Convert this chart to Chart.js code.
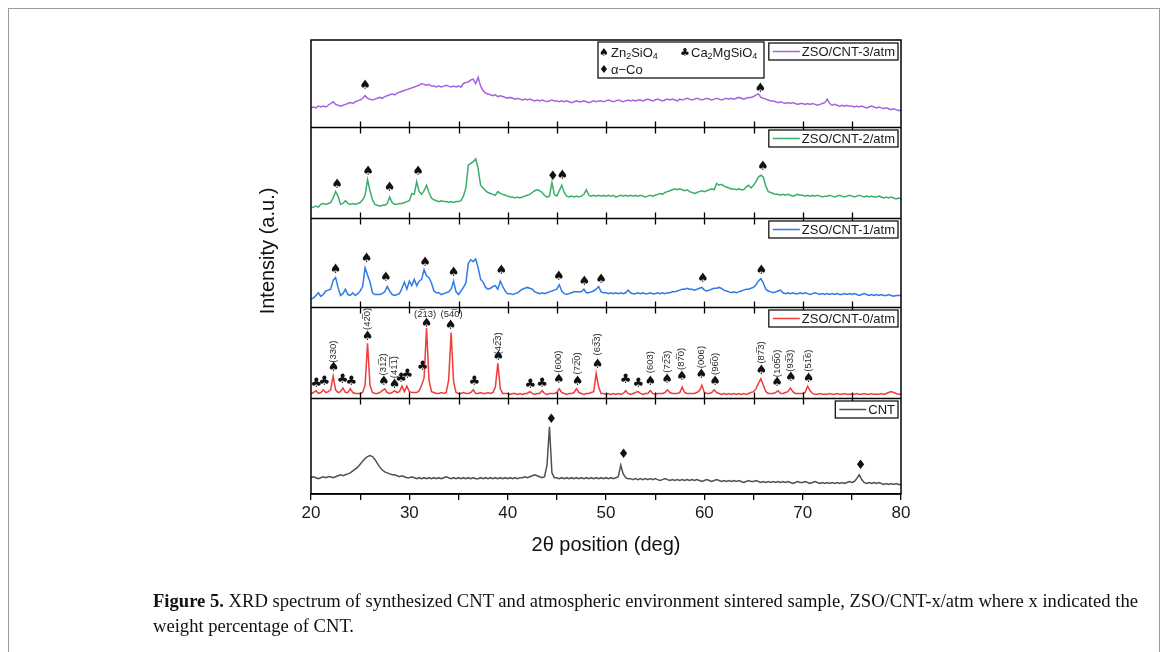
<!DOCTYPE html>
<html>
<head>
<meta charset="utf-8">
<script src="https://cdn.jsdelivr.net/npm/chart.js@4.4.1/dist/chart.umd.min.js"></script>
<style>
  html, body { margin: 0; padding: 0; background: #fff; }
  body { width: 1167px; height: 652px; position: relative; overflow: hidden; }
  #frame { position: absolute; left: 8px; top: 8px; width: 1150px; height: 700px; border: 1.5px solid #9a9a9a; }
  #chart { position: absolute; left: 0; top: 0; }
  #caption { position: absolute; left: 153px; top: 588px; font-family: 'Liberation Serif', 'Times New Roman', serif;
             font-size: 18.6px; color: #111; line-height: 25px; white-space: nowrap; }
  #caption b { font-weight: bold; }
</style>
</head>
<body>
<div id="frame"></div>
<canvas id="chart" width="1167" height="652"></canvas>
<div id="caption"><b>Figure 5.</b> XRD spectrum of synthesized CNT and atmospheric environment sintered sample, ZSO/CNT-x/atm where x indicated the<br>weight percentage of CNT.</div>
<script>
// scan grid: 2theta from 20 to 80 deg, 0.25 deg step
const scanStart = 20
const scanStep = 0.25

// intensities, each panel scaled 0..100 (a.u.), rows of 2.5 deg
const zso3 = [
  22, 23, 22, 24, 23, 24, 23, 25, 27, 29,
  26, 25, 24, 25, 26, 27, 28, 27, 29, 30,
  31, 33, 36, 33, 32, 31, 32, 33, 34, 33,
  35, 36, 37, 38, 37, 39, 40, 41, 42, 43,
  44, 45, 46, 47, 48, 50, 49, 48, 49, 47,
  47, 46, 47, 46, 47, 48, 47, 46, 47, 46,
  47, 46, 50, 51, 52, 54, 55, 50, 57, 47,
  42, 39, 38, 37, 36, 37, 35, 36, 35, 34,
  33, 34, 33, 32, 33, 32, 31, 32, 31, 32,
  31, 30, 31, 30, 31, 30, 29, 30, 31, 30,
  30, 29, 30, 29, 30, 29, 28, 29, 30, 29,
  29, 30, 29, 28, 29, 30, 29, 30, 30, 29,
  30, 31, 30, 29, 30, 31, 30, 29, 30, 31,
  30, 31, 30, 31, 31, 30, 31, 32, 31, 30,
  31, 32, 31, 30, 31, 32, 31, 32, 31, 30,
  32, 31, 32, 33, 32, 31, 32, 33, 32, 31,
  32, 33, 32, 31, 32, 33, 32, 31, 32, 33,
  32, 33, 32, 33, 34, 33, 32, 33, 34, 34,
  35, 37, 38, 34, 33, 32, 31, 30, 30, 29,
  28, 29, 28, 27, 28, 27, 28, 27, 26, 27,
  27, 26, 27, 26, 27, 26, 25, 26, 27, 28,
  32, 27, 25, 26, 25, 24, 25, 24, 25, 24,
  24, 23, 24, 23, 24, 23, 22, 23, 24, 23,
  22, 23, 22, 21, 22, 21, 20, 21, 20, 19,
  19
]

const zso2 = [
  11, 12, 13, 12, 15, 16, 15, 16, 17, 22,
  29, 24, 15, 16, 19, 16, 15, 16, 15, 16,
  17, 20, 25, 42, 30, 20, 15, 14, 13, 14,
  14, 16, 23, 17, 15, 15, 16, 16, 17, 18,
  19, 27, 26, 40, 29, 26, 30, 36, 28, 22,
  20, 19, 18, 19, 18, 18, 17, 18, 17, 18,
  18, 19, 24, 33, 58, 60, 62, 65, 54, 36,
  33, 30, 28, 27, 26, 25, 29, 27, 26, 25,
  24, 23, 23, 22, 23, 22, 23, 24, 25, 26,
  28, 30, 31, 30, 28, 25, 23, 24, 39, 26,
  24, 30, 36, 28, 24, 23, 24, 23, 24, 23,
  24, 26, 31, 25, 24, 25, 24, 25, 24, 25,
  24, 25, 24, 25, 23, 24, 25, 24, 25, 24,
  25, 24, 25, 24, 25, 24, 23, 24, 25, 24,
  25, 26, 27, 26, 28, 29, 30, 31, 32, 31,
  32, 31, 30, 31, 29, 28, 27, 28, 29, 30,
  29, 30, 31, 32, 31, 38, 36, 37, 35, 34,
  33, 32, 32, 31, 32, 31, 31, 34, 36, 33,
  36, 40, 45, 47, 45, 35, 29, 28, 27, 26,
  26, 25, 26, 25, 26, 25, 24, 25, 26, 25,
  25, 24, 25, 24, 25, 24, 25, 24, 23, 24,
  24, 25, 24, 23, 24, 25, 24, 23, 24, 25,
  24, 23, 24, 25, 24, 23, 24, 23, 24, 23,
  23, 24, 23, 22, 23, 22, 23, 22, 21, 22,
  21
]

const zso1 = [
  9, 10, 13, 16, 12, 14, 18, 19, 20, 30,
  33, 22, 13, 15, 20, 14, 13, 16, 13, 15,
  18, 23, 44, 36, 28, 16, 14, 14, 14, 15,
  17, 23, 18, 14, 13, 14, 15, 21, 28, 20,
  29, 24, 31, 24, 29, 31, 42, 35, 33, 27,
  18, 16, 16, 14, 15, 16, 17, 20, 29, 17,
  14, 18, 22, 27, 49, 53, 51, 54, 44, 31,
  28, 22, 20, 21, 23, 24, 20, 29, 23, 18,
  15, 15, 14, 15, 16, 18, 20, 21, 22, 21,
  20, 17, 16, 15, 16, 15, 16, 17, 18, 19,
  20, 25, 18, 15, 14, 15, 16, 17, 17, 17,
  17, 20, 16, 16, 17, 18, 20, 23, 17, 16,
  16, 15, 16, 15, 16, 15, 16, 15, 16, 19,
  16, 15, 15, 16, 15, 16, 15, 15, 16, 15,
  15, 16, 15, 16, 15, 16, 16, 17, 17, 18,
  19, 20, 20, 21, 20, 20, 19, 20, 21, 22,
  19, 18, 19, 20, 21, 21, 22, 21, 19, 18,
  17, 16, 17, 16, 17, 18, 19, 20, 20, 21,
  22, 25, 29, 32, 27, 20, 18, 17, 16, 17,
  18, 19, 16, 15, 16, 15, 16, 15, 15, 16,
  15, 16, 15, 14, 15, 16, 15, 14, 15, 14,
  15, 14, 15, 14, 15, 14, 14, 15, 14, 15,
  14, 15, 14, 13, 14, 15, 14, 13, 14, 13,
  14, 13, 14, 13, 13, 14, 13, 12, 13, 13,
  13
]

const zso0 = [
  5, 6, 8, 5, 6, 9, 6, 7, 9, 24,
  9, 6, 7, 11, 6, 6, 10, 6, 5, 5,
  5, 6, 14, 60, 14, 6, 5, 5, 6, 8,
  10, 6, 5, 6, 8, 6, 7, 13, 7, 13,
  7, 6, 6, 6, 8, 14, 22, 77, 20, 7,
  6, 5, 5, 6, 5, 6, 20, 72, 18, 6,
  5, 5, 6, 5, 5, 6, 9, 5, 5, 6,
  5, 5, 6, 5, 6, 12, 38, 10, 5, 5,
  5, 4, 5, 5, 4, 5, 4, 5, 5, 7,
  5, 4, 5, 5, 8, 5, 4, 5, 5, 5,
  6, 10, 6, 5, 4, 5, 5, 6, 10, 6,
  5, 4, 5, 5, 6, 7, 27, 12, 5, 5,
  4, 5, 4, 5, 4, 5, 4, 5, 8, 5,
  4, 5, 6, 7, 5, 4, 5, 5, 8, 5,
  4, 5, 5, 5, 6, 9, 6, 5, 5, 5,
  6, 12, 6, 5, 5, 5, 5, 6, 8, 14,
  6, 5, 5, 6, 9, 6, 5, 4, 5, 4,
  5, 4, 5, 4, 5, 4, 5, 4, 5, 6,
  7, 10, 16, 21, 14, 7, 5, 5, 5, 6,
  8, 5, 5, 6, 7, 11, 7, 5, 5, 5,
  5, 6, 13, 8, 5, 4, 4, 5, 4, 4,
  4, 5, 4, 4, 5, 4, 4, 5, 4, 4,
  4, 4, 5, 4, 4, 5, 4, 4, 5, 4,
  4, 4, 5, 4, 5, 6, 7, 6, 5, 4,
  4
]

const cnt = [
  17, 18, 17, 16, 17, 18, 17, 18, 18, 17,
  18, 19, 20, 19, 20, 21, 22, 24, 26, 28,
  31, 34, 37, 39, 40, 39, 36, 32, 28, 25,
  23, 22, 21, 20, 20, 19, 18, 19, 18, 17,
  17, 18, 17, 16, 17, 16, 17, 16, 17, 16,
  17, 16, 17, 16, 17, 18, 17, 16, 17, 16,
  17, 16, 17, 16, 17, 16, 17, 16, 16, 17,
  16, 17, 16, 17, 16, 17, 16, 17, 16, 17,
  16, 17, 16, 17, 16, 17, 17, 18, 17, 18,
  19, 20, 19, 18, 17, 18, 30, 70, 22, 17,
  17, 16, 17, 16, 17, 16, 17, 16, 17, 16,
  17, 16, 17, 16, 17, 16, 17, 16, 17, 16,
  17, 16, 17, 16, 17, 18, 30, 21, 17, 16,
  16, 15, 16, 15, 16, 15, 16, 15, 16, 15,
  16, 15, 14, 15, 16, 15, 14, 15, 14, 15,
  14, 15, 14, 15, 14, 15, 14, 15, 14, 13,
  14, 15, 14, 13, 14, 15, 14, 13, 14, 13,
  14, 13, 14, 13, 14, 13, 12, 13, 14, 13,
  13, 14, 13, 12, 13, 12, 13, 12, 13, 12,
  13, 12, 13, 12, 13, 12, 11, 12, 13, 12,
  12, 13, 12, 11, 12, 13, 12, 11, 12, 11,
  12, 11, 12, 11, 12, 11, 12, 11, 12, 13,
  12, 13, 16, 20, 15, 12, 11, 12, 11, 12,
  11, 12, 11, 10, 11, 10, 11, 10, 11, 10,
  10
]

// phase marks [2theta, height in panel units, phase]
const marks3 = [[25.5, 48, 'zn'], [65.7, 44, 'zn']]
const marks2 = [[22.65, 37, 'zn'], [25.8, 51, 'zn'], [28.0, 33, 'zn'], [30.9, 51, 'zn'],
  [44.6, 45, 'co'], [45.55, 47, 'zn'], [65.95, 57, 'zn']]
const marks1 = [[22.5, 42, 'zn'], [25.65, 54.5, 'zn'], [27.6, 33, 'zn'], [31.6, 50, 'zn'], [34.5, 39, 'zn'],
  [39.35, 41, 'zn'], [45.2, 34.5, 'zn'], [47.8, 28, 'zn'], [49.5, 31, 'zn'], [59.85, 32, 'zn'], [65.8, 41, 'zn']]
const marks0 = [[20.55, 16, 'ca'], [21.35, 17.5, 'ca'], [22.3, 33, 'zn'], [23.2, 20, 'ca'], [24.1, 18.5, 'ca'],
  [25.75, 67, 'zn'], [27.4, 17.5, 'zn'], [28.5, 14.5, 'zn'], [29.15, 21, 'ca'], [29.8, 26, 'ca'],
  [31.35, 34, 'ca'], [31.75, 82, 'zn'], [34.2, 80, 'zn'], [36.6, 18, 'ca'], [39.05, 46, 'zn'],
  [42.3, 14.5, 'ca'], [43.5, 15.6, 'ca'], [45.2, 20, 'zn'], [47.1, 17.5, 'zn'], [49.15, 37, 'zn'],
  [52.0, 20, 'ca'], [53.3, 16, 'ca'], [54.5, 18, 'zn'], [56.2, 20, 'zn'], [57.7, 23.6, 'zn'],
  [59.7, 25.5, 'zn'], [61.1, 17.5, 'zn'], [65.8, 30, 'zn'], [67.4, 16.7, 'zn'], [68.8, 22, 'zn'], [70.6, 21, 'zn']]
const marksCnt = [[44.45, 77, 'co'], [51.8, 41, 'co'], [75.9, 30, 'co']]

// Miller indices on ZSO/CNT-0/atm [text, 2theta, height, rotated]
const bar = '\u0305'
const hkl0 = [
  ['(330)', 22.3, 51, true], ['(42' + bar + '0)', 25.75, 87, true], ['(31' + bar + '2)', 27.35, 37, true],
  ['(41' + bar + '1' + bar + ')', 28.5, 34, true], ['(2' + bar + '13)', 31.6, 92, false], ['(54' + bar + '0)', 34.3, 92, false],
  ['(42' + bar + '3)', 39.05, 60, true], ['(600)', 45.2, 40, true], ['(72' + bar + '0)', 47.1, 38, true],
  ['(63' + bar + '3)', 49.15, 59, true], ['(603)', 54.5, 39.5, true], ['(72' + bar + '3)', 56.2, 40, true],
  ['(87' + bar + '0)', 57.7, 43, true], ['(006)', 59.7, 45, true], ['(96' + bar + '0)', 61.1, 37.5, true],
  ['(87' + bar + '3)', 65.8, 50, true], ['(105' + bar + '0)', 67.4, 38, true], ['(93' + bar + '3)', 68.8, 41, true],
  ['(51' + bar + '6)', 70.6, 41, true]
]

const seriesNames = ['ZSO/CNT-3/atm', 'ZSO/CNT-2/atm', 'ZSO/CNT-1/atm', 'ZSO/CNT-0/atm', 'CNT']
const seriesColors = ['#a862e2', '#3aae6a', '#2e7be6', '#f23b3b', '#505050']

const glyph = { zn: '\u2660', ca: '\u2663', co: '\u2666' }
const sans = 'Arial, "Liberation Sans", sans-serif'

// top panel first; weight = relative panel height
const panels = [
  { axis: 'yA', weight: 87, values: zso3, marks: marks3 },
  { axis: 'yB', weight: 91, values: zso2, marks: marks2 },
  { axis: 'yC', weight: 89, values: zso1, marks: marks1 },
  { axis: 'yD', weight: 91, values: zso0, marks: marks0, hkl: hkl0 },
  { axis: 'yE', weight: 96, values: cnt, marks: marksCnt }
]

function panelAxis (weight) {
  return {
    type: 'linear',
    position: 'left',
    stack: 'xrd',
    stackWeight: weight,
    min: 0,
    max: 100,
    ticks: { display: false },
    grid: { display: false },
    border: { display: false },
    afterFit (s) { s.width = 0 }
  }
}

function drawLegend (ctx, right, top, color, text) {
  ctx.font = '13px ' + sans
  const w = 36 + ctx.measureText(text).width
  const left = right - w
  ctx.fillStyle = '#fff'
  ctx.fillRect(left, top, w, 17)
  ctx.strokeStyle = '#000'
  ctx.lineWidth = 1.2
  ctx.strokeRect(left, top, w, 17)
  ctx.strokeStyle = color
  ctx.lineWidth = 1.5
  ctx.beginPath()
  ctx.moveTo(left + 4, top + 8.5)
  ctx.lineTo(left + 31, top + 8.5)
  ctx.stroke()
  ctx.fillStyle = '#1a1a1a'
  ctx.textAlign = 'left'
  ctx.textBaseline = 'middle'
  ctx.fillText(text, left + 33, top + 9)
}

function drawChem (ctx, x, y, parts) {
  // parts: [text, isSub]
  parts.forEach(([t, sub]) => {
    ctx.font = (sub ? '9px ' : '13px ') + sans
    ctx.fillText(t, x, sub ? y + 4 : y)
    x += ctx.measureText(t).width
  })
}

const panelPlugin = {
  id: 'panels',
  afterDatasetsDraw (chart) {
    const { ctx, chartArea: a, scales } = chart
    const xs = scales.x
    ctx.save()

    // separators with inward ticks on both sides
    ctx.strokeStyle = '#000'
    ctx.lineWidth = 1.3
    panels.forEach((p, i) => {
      if (i === 0) return
      const y = Math.round(scales[p.axis].top) + 0.5
      ctx.beginPath()
      ctx.moveTo(a.left, y)
      ctx.lineTo(a.right, y)
      for (let v = 25; v < 80; v += 5) {
        const px = Math.round(xs.getPixelForValue(v)) + 0.5
        ctx.moveTo(px, y - 6)
        ctx.lineTo(px, y + 6)
      }
      ctx.stroke()
    })
    ctx.lineWidth = 1.5
    ctx.strokeRect(a.left, a.top, a.right - a.left, a.bottom - a.top)

    // phase marks and hkl labels
    ctx.fillStyle = '#111'
    ctx.textAlign = 'center'
    ctx.textBaseline = 'middle'
    panels.forEach(p => {
      const ys = scales[p.axis]
      ctx.font = '13px "DejaVu Sans", sans-serif'
      p.marks.forEach(([m, h, k]) => {
        ctx.fillText(glyph[k], xs.getPixelForValue(m), ys.getPixelForValue(h))
      })
      if (p.hkl) {
        ctx.font = '9.5px ' + sans
        ctx.fillStyle = '#2a2a2a'
        p.hkl.forEach(([t, m, h, rot]) => {
          ctx.save()
          ctx.translate(xs.getPixelForValue(m), ys.getPixelForValue(h))
          if (rot) ctx.rotate(-Math.PI / 2)
          ctx.fillText(t, 0, 0)
          ctx.restore()
        })
        ctx.fillStyle = '#111'
      }
    })

    // legends
    panels.forEach((p, i) => {
      drawLegend(ctx, a.right - 3, scales[p.axis].top + 3, seriesColors[i], seriesNames[i])
    })

    // phase key in top panel
    const kx = a.left + 287
    const ky = a.top + 2
    ctx.fillStyle = '#fff'
    ctx.fillRect(kx, ky, 166, 36)
    ctx.strokeStyle = '#000'
    ctx.lineWidth = 1.2
    ctx.strokeRect(kx, ky, 166, 36)
    ctx.fillStyle = '#111'
    ctx.textBaseline = 'middle'
    ctx.textAlign = 'center'
    ctx.font = '11px "DejaVu Sans", sans-serif'
    ctx.fillText(glyph.zn, kx + 6, ky + 11)
    ctx.fillText(glyph.ca, kx + 87, ky + 11)
    ctx.fillText(glyph.co, kx + 6, ky + 28)
    ctx.textAlign = 'left'
    ctx.fillStyle = '#1a1a1a'
    drawChem(ctx, kx + 13, ky + 11, [['Zn', false], ['2', true], ['SiO', false], ['4', true]])
    drawChem(ctx, kx + 93, ky + 11, [['Ca', false], ['2', true], ['MgSiO', false], ['4', true]])
    drawChem(ctx, kx + 13, ky + 28, [['\u03b1\u2212Co', false]])

    // y title
    ctx.save()
    ctx.translate(268, 251)
    ctx.rotate(-Math.PI / 2)
    ctx.textAlign = 'center'
    ctx.font = '20px ' + sans
    ctx.fillStyle = '#111'
    ctx.fillText('Intensity (a.u.)', 0, 0)
    ctx.restore()

    ctx.restore()
  }
}

const scales = {
  x: {
    type: 'linear',
    min: 20,
    max: 80,
    ticks: {
      stepSize: 5,
      autoSkip: false,
      maxRotation: 0,
      padding: 3,
      color: '#1a1a1a',
      font: { family: sans, size: 17 },
      callback: v => (v % 10 === 0 ? v : '')
    },
    grid: { display: true, drawOnChartArea: false, drawTicks: true, tickLength: 6, color: '#000', lineWidth: 1.3 },
    border: { display: true, color: '#000', width: 1.5 },
    title: {
      display: true,
      text: '2\u03b8 position (deg)',
      color: '#111',
      font: { family: sans, size: 20 },
      padding: { top: 10, bottom: 4 }
    },
    afterFit (s) { s.height = 67 }
  }
}
// stacked axes are laid out bottom-up, so register the bottom panel first
panels.slice().reverse().forEach(p => { scales[p.axis] = panelAxis(p.weight) })

const datasets = panels.map((p, i) => ({
  label: seriesNames[i],
  data: p.values.map((v, k) => ({ x: scanStart + k * scanStep, y: v })),
  yAxisID: p.axis,
  borderColor: seriesColors[i],
  borderWidth: 1.5,
  pointRadius: 0,
  tension: 0,
  fill: false
}))

new Chart(document.getElementById('chart'), {
  type: 'line',
  data: { datasets },
  options: {
    responsive: false,
    animation: false,
    devicePixelRatio: 1,
    layout: { padding: { left: 311, right: 266, top: 40, bottom: 91 } },
    plugins: { legend: { display: false }, tooltip: { enabled: false } },
    scales
  },
  plugins: [panelPlugin]
})
</script>
</body>
</html>
